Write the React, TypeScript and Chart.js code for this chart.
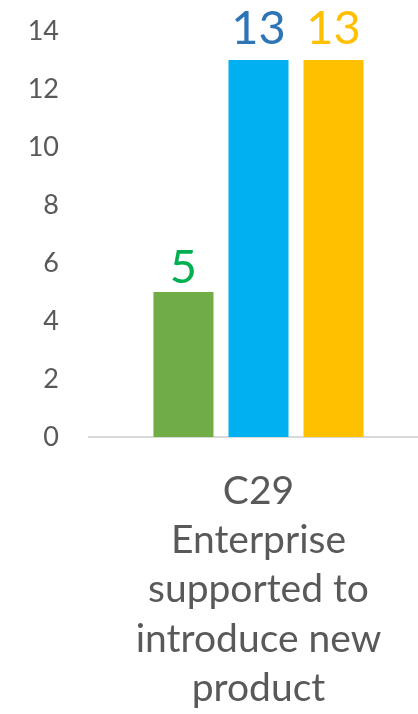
import React, { useEffect, useRef } from "react";
import { Chart, registerables } from "chart.js";

Chart.register(...registerables);

const categories: string[][] = [["C29", "Enterprise", "supported to", "introduce new", "product"]];
const seriesNames = ["Series A", "Series B", "Series C"];
const seriesValues = [[5], [13], [13]];
const barColors = ["#70AD47", "#00B0F0", "#FFC000"];
const labelColors = ["#00B050", "#2E75B6", "#FFC000"];
const yTicks = [0, 2, 4, 6, 8, 10, 12, 14];
const labelGaps = [9, 16, 16];

const valueLabels = {
  id: "valueLabels",
  afterDatasetsDraw(chart: any) {
    const ctx = chart.ctx;
    ctx.save();
    ctx.font = "47px Lato";
    ctx.textAlign = "center";
    ctx.textBaseline = "alphabetic";
    chart.data.datasets.forEach((ds: any, i: number) => {
      const meta = chart.getDatasetMeta(i);
      meta.data.forEach((bar: any, j: number) => {
        ctx.fillStyle = labelColors[i];
        ctx.fillText(String(ds.data[j]), bar.x, bar.y - labelGaps[i]);
      });
    });
    ctx.restore();
  },
};

export default function App() {
  const ref = useRef<HTMLCanvasElement>(null);
  useEffect(() => {
    document.body.style.margin = "0";
    document.body.style.overflow = "hidden";
    const chart = new Chart(ref.current!, {
      type: "bar",
      data: {
        labels: categories,
        datasets: seriesValues.map((v, i) => ({
          label: seriesNames[i],
          data: v,
          backgroundColor: barColors[i],
          barPercentage: 0.8,
          categoryPercentage: 0.664,
        })),
      },
      options: {
        animation: false,
        responsive: false,
        maintainAspectRatio: false,
        layout: { padding: { top: 31, right: 0, left: 0, bottom: 0 } },
        plugins: { legend: { display: false }, tooltip: { enabled: false } },
        scales: {
          y: {
            min: 0,
            max: 14,
            afterBuildTicks: (s: any) => {
              s.ticks = yTicks.map((v) => ({ value: v }));
            },
            afterFit: (s: any) => {
              s.width = 89;
              s.paddingTop = 0;
              s.paddingBottom = 0;
            },
            grid: { display: false },
            border: { display: false },
            ticks: {
              padding: 22,
              color: "#595959",
              font: { family: "Lato", size: 27 },
            },
          },
          x: {
            afterFit: (s: any) => {
              s.height = 277;
            },
            grid: { display: false },
            border: { display: true, color: "#D9D9D9", width: 2 },
            ticks: {
              padding: 22,
              color: "#595959",
              maxRotation: 0,
              font: { family: "Lato", size: 39, lineHeight: 1.26 },
            },
          },
        },
      },
      plugins: [valueLabels],
    });
    return () => chart.destroy();
  }, []);
  return (
    <div style={{ width: 418, height: 714, overflow: "hidden" }}>
      <canvas ref={ref} width={428} height={714} style={{ display: "block" }} />
    </div>
  );
}
